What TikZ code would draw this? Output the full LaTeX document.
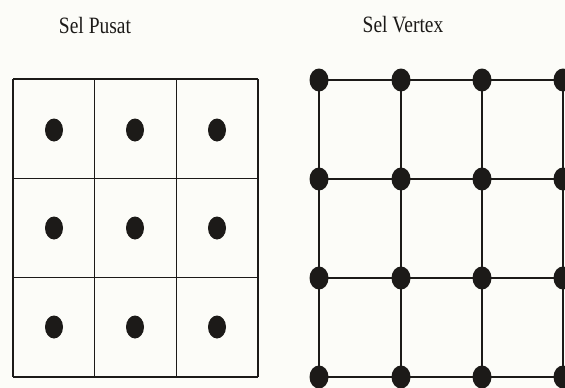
\documentclass[tikz,border=0pt]{standalone}
\usepackage{fontspec}
\setmainfont{Liberation Serif}
\usetikzlibrary{shapes.geometric}
\definecolor{bg}{RGB}{252,252,248}
\definecolor{ink}{RGB}{28,26,24}
\tikzset{
  gridline/.style={draw=ink, line width=1.5pt},
  celldot/.style={ellipse, fill=ink, inner sep=0pt, minimum width=18pt, minimum height=23pt},
  vdot/.style={ellipse, fill=ink, inner sep=0pt, minimum width=19pt, minimum height=23pt},
  title/.style={font=\fontsize{19.5}{22}\selectfont, inner sep=0pt, text=ink}
}
\begin{document}
\begin{tikzpicture}[x=1pt,y=-1pt]
\fill[bg] (0,0) rectangle (565,388);
\useasboundingbox (0,0) rectangle (565,388);
% titles
\node[title] (t1) at (95,25) {\scalebox{1}[1.2]{Sel Pusat}};
\node[title] (t2) at (403,25) {\scalebox{1}[1.2]{Sel Vertex}};
% left grid: cells with centre dots
\foreach \x in {13,94.7,176.3,258} \draw[gridline] (\x,79) -- (\x,377);
\foreach \y in {79,178.3,277.7,377} \draw[gridline] (13,\y) -- (258,\y);
\foreach \c/\x in {1/54,2/135,3/217}
  \foreach \r/\y in {1/130,2/228,3/327}
    \node[celldot] (p\r\c) at (\x,\y) {};
% right grid: vertices
\foreach \c/\x in {1/319,2/401,3/482,4/563}
  \foreach \r/\y in {1/80,2/179,3/278,4/377}
    \coordinate (v\r\c) at (\x,\y);
\foreach \r in {1,2,3,4}
  \draw[gridline] (v\r1) -- (v\r2) -- (v\r3) -- (v\r4);
\foreach \c in {1,2,3,4}
  \draw[gridline] (v1\c) -- (v2\c) -- (v3\c) -- (v4\c);
\foreach \r in {1,2,3,4}
  \foreach \c in {1,2,3,4}
    \node[vdot] (d\r\c) at (v\r\c) {};
\end{tikzpicture}
\end{document}
